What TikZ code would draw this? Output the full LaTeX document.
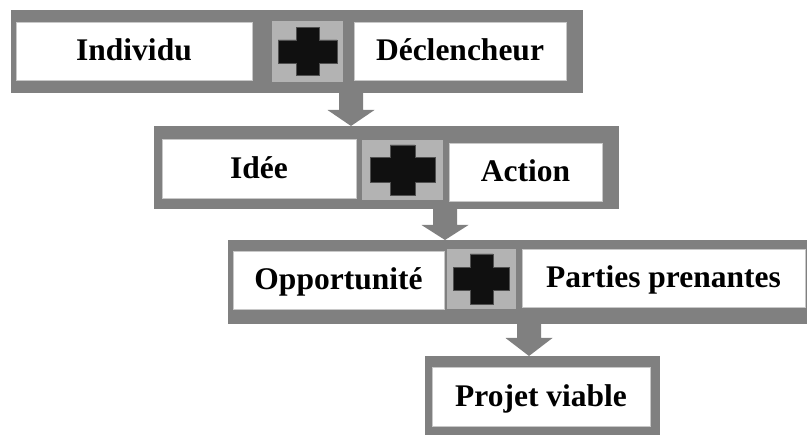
\documentclass[tikz,border=0pt]{standalone}
\usepackage{fontspec}
\setmainfont{Liberation Serif}
\usetikzlibrary{calc}
\definecolor{framegray}{HTML}{808080}
\definecolor{plusbg}{HTML}{B3B3B3}
\definecolor{crossfill}{HTML}{101010}
\definecolor{crossline}{HTML}{505050}
\definecolor{boxline}{HTML}{C8C8C8}
\tikzset{
  frame/.style={fill=framegray, draw=none, inner sep=0pt, outer sep=0pt},
  wbox/.style={fill=white, draw=boxline, line width=0.8pt, inner sep=0pt, outer sep=0pt,
    font=\fontsize{31.5}{36}\selectfont\bfseries, text height=22pt, text depth=2pt, align=center},
  plusbox/.style={fill=plusbg, draw=none, inner sep=0pt, outer sep=0pt},
  crossst/.style={fill=crossfill, draw=crossline, line width=0.8pt},
}
% cross: center, half width, half height, half thickness (picture units = pt)
\newcommand\plusmark[4]{%
  \filldraw[crossst] (#1) ++(-#2,-#4) -- ++({#2-#4},0) -- ++(0,{-(#3-#4)})
    -- ++({2*#4},0) -- ++(0,{#3-#4}) -- ++({#2-#4},0) -- ++(0,{2*#4})
    -- ++({-(#2-#4)},0) -- ++(0,{#3-#4}) -- ++({-2*#4},0)
    -- ++(0,{-(#3-#4)}) -- ++({-(#2-#4)},0) -- cycle;}
% block arrow from (#1) down to tip (#2), head length #3
\newcommand\blockarrow[3]{%
  \fill[framegray] let \p1=(#1), \p2=(#2) in
    (\x1-12pt,\y1) -- (\x1-12pt,\y2+#3) -- (\x1-23.5pt,\y2+#3) -- (\x2,\y2)
    -- (\x1+23.5pt,\y2+#3) -- (\x1+12pt,\y2+#3) -- (\x1+12pt,\y1) -- cycle;}
\begin{document}
\begin{tikzpicture}[x=1pt,y=-1pt]
\useasboundingbox (0,0) rectangle (807,435);
% frames
\node[frame, minimum width=572pt, minimum height=83pt] (r1) at (297,51.5) {};
\node[frame, minimum width=465pt, minimum height=83pt] (r2) at (386.5,167.5) {};
\node[frame, minimum width=579pt, minimum height=84pt] (r3) at (517.5,282) {};
\node[frame, minimum width=235pt, minimum height=79pt] (r4) at (542.5,395.5) {};
% row 1
\node[wbox, minimum width=236pt, minimum height=58pt] (ind) at (134,51) {Individu};
\node[plusbox, minimum width=71pt, minimum height=61pt] (pl1) at (307.5,51.5) {};
\plusmark{pl1.center}{29.5}{24}{11.5}
\node[wbox, minimum width=212pt, minimum height=58pt] (dec) at (460,51) {Déclencheur};
% row 2
\node[wbox, minimum width=194pt, minimum height=59pt] (ide) at (259,168.5) {Idée};
\node[plusbox, minimum width=81pt, minimum height=60pt] (pl2) at (402.5,170) {};
\plusmark{pl2.center}{32.5}{25}{12.5}
\node[wbox, minimum width=153pt, minimum height=58pt] (act) at (525.5,172) {Action};
% row 3
\node[wbox, minimum width=211pt, minimum height=58pt] (opp) at (338.5,280) {Opportunité};
\node[plusbox, minimum width=69pt, minimum height=60pt] (pl3) at (481.5,279) {};
\plusmark{pl3.center}{28}{25}{11.5}
\node[wbox, minimum width=283pt, minimum height=58pt] (par) at (663.5,278) {Parties prenantes};
% row 4
\node[wbox, minimum width=218pt, minimum height=59pt] (pro) at (541,396.5) {Projet viable};
% arrows
\coordinate (c1) at (351,0);
\coordinate (c2) at (445,0);
\coordinate (c3) at (529,0);
\blockarrow{r1.south -| c1}{r2.north -| c1}{16pt}
\blockarrow{r2.south -| c2}{r3.north -| c2}{15pt}
\blockarrow{r3.south -| c3}{r4.north -| c3}{18pt}
\end{tikzpicture}
\end{document}
